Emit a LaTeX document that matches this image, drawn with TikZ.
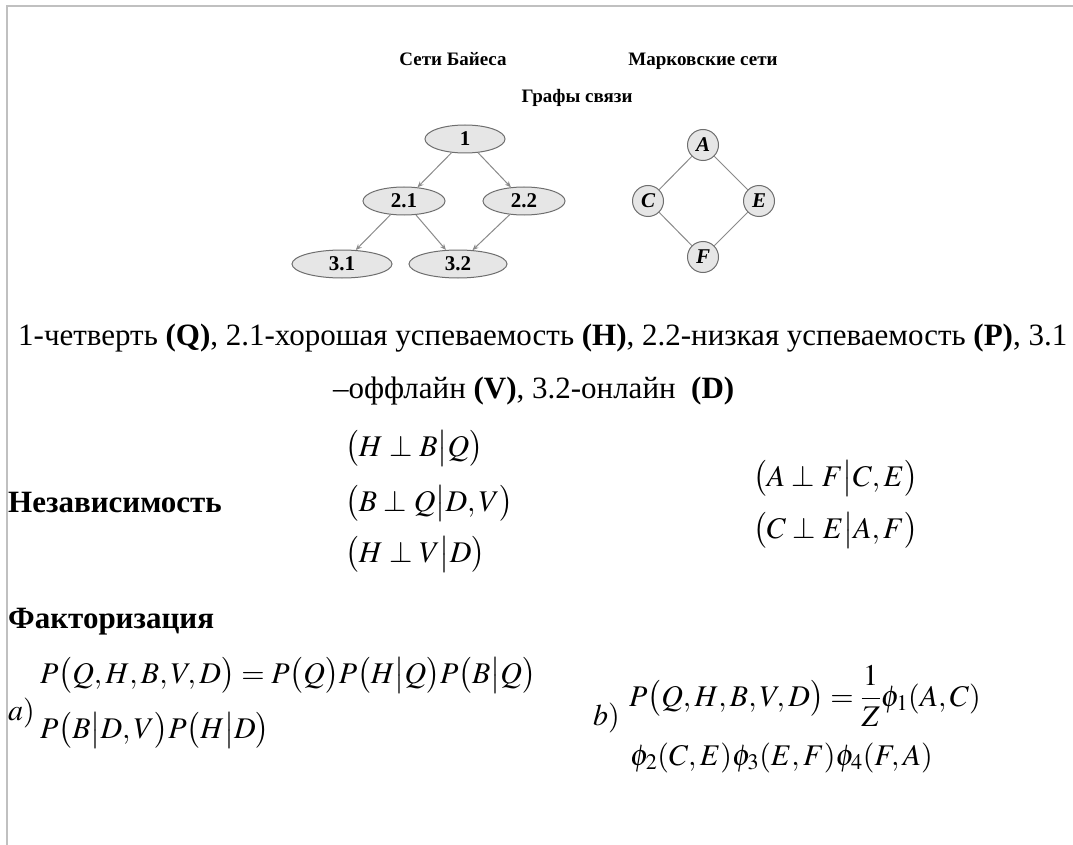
\documentclass[tikz,border=0pt]{standalone}
\usepackage{amsmath}
\usepackage{mathptmx}
\usepackage[no-math]{fontspec}
\setmainfont{Liberation Serif}
\usetikzlibrary{arrows.meta,shapes.geometric}
\definecolor{edgegray}{HTML}{8A8A8A}
\definecolor{nodefill}{HTML}{E6E6E6}
\definecolor{nodedraw}{HTML}{6E6E6E}
\definecolor{framegray}{HTML}{C0C0C0}
\tikzset{
  bnode/.style={ellipse, draw=nodedraw, fill=nodefill, line width=1pt, minimum width=#1, minimum height=28pt, inner sep=0pt, font=\fontsize{21}{21}\selectfont\bfseries},
  mnode/.style={circle, draw=nodedraw, fill=nodefill, line width=1pt, minimum size=31pt, inner sep=0pt, font=\fontsize{21}{21}\selectfont\bfseries\itshape},
  dedge/.style={draw=edgegray, line width=1pt, -{Stealth[length=6pt,width=5pt]}},
  uedge/.style={draw=edgegray, line width=1pt},
  title/.style={anchor=base, font=\fontsize{19}{19}\selectfont\bfseries, inner sep=0pt},
  body/.style={anchor=base west, font=\fontsize{31}{31}\selectfont, inner sep=0pt},
  head/.style={anchor=base west, font=\fontsize{31}{31}\selectfont\bfseries, inner sep=0pt},
  eq/.style={anchor=base west, font=\fontsize{30}{30}\selectfont, inner sep=0pt},
}
\newcommand{\bo}{\bigl(}
\newcommand{\bc}{\bigr)}
\newcommand{\gv}{\big|}
\begin{document}
\begin{tikzpicture}[x=1pt,y=-1pt]
\useasboundingbox (0,0) rectangle (1073,845);
\fill[white] (0,0) rectangle (1073,845);
\draw[draw=framegray, line width=1.5pt] (7,845) -- (7,6) -- (1073,6);

% titles
\node[title] (t1) at (453,66) {Сети Байеса};
\node[title] (t2) at (703,66) {Марковские сети};
\node[title] (t3) at (577,103) {Графы связи};

% Bayesian network
\node[bnode=80pt] (n1) at (465,139) {1};
\node[bnode=82pt] (n21) at (404,201) {2.1};
\node[bnode=82pt] (n22) at (524,201) {2.2};
\node[bnode=100pt] (n31) at (342,264) {3.1};
\node[bnode=98pt] (n32) at (458,264) {3.2};
\draw[dedge] (n1) -- (n21);
\draw[dedge] (n1) -- (n22);
\draw[dedge] (n21) -- (n31);
\draw[dedge] (n21) -- (n32);
\draw[dedge] (n22) -- (n32);

% Markov network
\node[mnode] (A) at (703,145) {A};
\node[mnode] (C) at (648,201) {C};
\node[mnode] (E) at (759,201) {E};
\node[mnode] (F) at (703,257) {F};
\draw[uedge] (A) -- (C);
\draw[uedge] (A) -- (E);
\draw[uedge] (C) -- (F);
\draw[uedge] (E) -- (F);

% legend text
\node[body] (l1) at (18,345) {1-четверть \textbf{(Q)}, 2.1-хорошая успеваемость \textbf{(H)}, 2.2-низкая успеваемость \textbf{(P)}, 3.1};
\node[body] (l2) at (333,398) {–оффлайн \textbf{(V)}, 3.2-онлайн\ \ \textbf{(D)}};

% independence
\node[head] (ind) at (8,512) {Независимость};
\node[eq] (i1) at (345,456) {$\bo H\perp B\gv Q\bc$};
\node[eq] (i2) at (345,511) {$\bo B\perp Q\gv D,V\bc$};
\node[eq] (i3) at (345,562) {$\bo H\perp V\gv D\bc$};
\node[eq] (i4) at (753,486) {$\bo A\perp F\gv C,E\bc$};
\node[eq] (i5) at (753,538) {$\bo C\perp E\gv A,F\bc$};

% factorization
\node[head] (fac) at (8,628) {Факторизация};
\node[eq] (la) at (8,720) {$a)$};
\node[eq] (a1) at (40,683) {$P\bo Q,H,B,V,D\bc=P\bo Q\bc P\bo H\gv Q\bc P\bo B\gv Q\bc$};
\node[eq] (a2) at (40,738) {$P\bo B\gv D,V\bc P\bo H\gv D\bc$};
\node[eq] (lb) at (593,725) {$b)$};
\node[eq] (b1) at (629,706) {$P\bo Q,H,B,V,D\bc=\dfrac{1}{Z}\phi_1(A,C)$};
\node[eq] (b2) at (630,765) {$\phi_2(C,E)\phi_3(E,F)\phi_4(F,A)$};
\end{tikzpicture}
\end{document}
